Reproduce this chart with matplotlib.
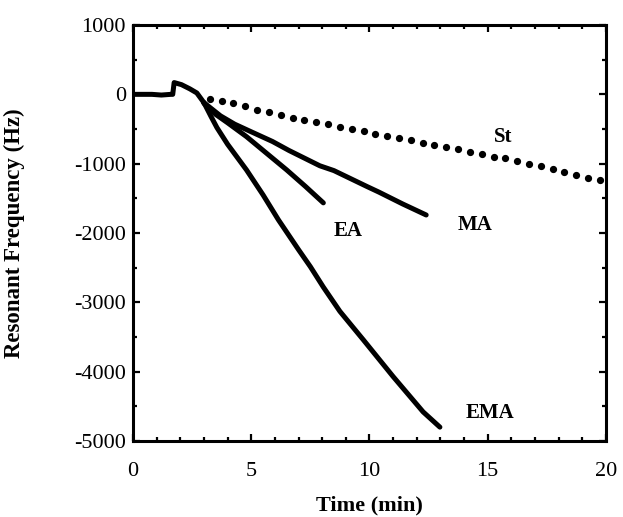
import matplotlib
matplotlib.use("Agg")
import matplotlib.pyplot as plt
from matplotlib.ticker import MultipleLocator

plt.rcParams['font.family'] = ['Liberation Serif', 'DejaVu Serif']
plt.rcParams['axes.unicode_minus'] = False

# Common start (baseline + initial peak)
base_t = [0.0, 0.4, 0.8, 1.2, 1.6, 1.68, 1.74, 2.05, 2.4, 2.7, 3.0]
base_f = [0, 0, 0, -10, 0, 0, 170, 140, 80, 20, -120]

# EMA
ema_t = [3.0, 3.3, 3.55, 4.0, 4.8, 5.5, 6.15, 7.0, 7.5, 8.05, 8.75, 9.74, 11.0, 12.27, 12.98]
ema_f = [-120, -320, -480, -720, -1090, -1450, -1810, -2240, -2485, -2780, -3130, -3540, -4070, -4580, -4800]

# EA
ea_t = [3.0, 3.5, 4.0, 4.8, 5.65, 6.5, 7.3, 8.05]
ea_f = [-130, -290, -410, -610, -850, -1090, -1330, -1565]

# MA
ma_t = [3.0, 3.7, 4.3, 5.0, 5.9, 6.6, 7.9, 8.5, 9.9, 10.4, 11.4, 12.4]
ma_f = [-120, -310, -430, -540, -680, -810, -1030, -1100, -1330, -1410, -1580, -1740]

# St (dotted)
st_t = [3.25, 3.75, 4.25, 4.75, 5.25, 5.75, 6.25, 6.75, 7.25, 7.75, 8.25, 8.75,
        9.25, 9.75, 10.25, 10.75, 11.25, 11.75, 12.25, 12.75, 13.25, 13.75,
        14.25, 14.75, 15.25, 15.75, 16.25, 16.75, 17.25, 17.75, 18.25, 18.75,
        19.25, 19.75]
st_f = [-60, -95, -130, -175, -220, -250, -295, -340, -370, -400, -430, -465,
        -500, -535, -570, -600, -635, -665, -700, -730, -760, -790,
        -830, -860, -905, -925, -960, -1000, -1040, -1080, -1125, -1160,
        -1210, -1235]

labels = ["EMA", "EA", "MA", "St"]
label_pos = [(14.05, -4600), (8.5, -1970), (13.75, -1880), (15.25, -610)]

xticks = [0, 5, 10, 15, 20]
yticks = [-5000, -4000, -3000, -2000, -1000, 0, 1000]

fig = plt.figure(figsize=(6.23, 5.17), dpi=100)
ax = fig.add_axes([0.2135, 0.147, 0.759, 0.8046])

lw = 3.6
ax.plot(base_t, base_f, color='black', lw=lw, solid_capstyle='round')
ax.plot(ema_t, ema_f, color='black', lw=lw, solid_capstyle='round')
ax.plot(ea_t, ea_f, color='black', lw=lw, solid_capstyle='round')
ax.plot(ma_t, ma_f, color='black', lw=lw, solid_capstyle='round')
ax.plot(st_t, st_f, linestyle='none', marker='o', ms=4.2, color='black')

for lab, (x, y) in zip(labels, label_pos):
    ax.text(x, y, lab, fontsize=15, fontweight='bold', ha='left', va='center')

ax.set_xlim(0, 20)
ax.set_ylim(-5000, 1000)
ax.set_xticks(xticks)
ax.set_yticks(yticks)
ax.xaxis.set_minor_locator(MultipleLocator(1))
ax.yaxis.set_minor_locator(MultipleLocator(500))

ax.tick_params(which='both', direction='in', top=True, right=True, width=1.6)
ax.tick_params(which='major', length=5)
ax.tick_params(which='minor', length=3)
ax.tick_params(axis='x', which='major', pad=15, labelsize=16)
ax.tick_params(axis='y', which='major', pad=5, labelsize=16)

for s in ax.spines.values():
    s.set_linewidth(2.2)

ax.set_xlabel("Time (min)", fontsize=16, fontweight='bold')
ax.set_ylabel("Resonant Frequency (Hz)", fontsize=16.5, fontweight='bold')
ax.xaxis.set_label_coords(0.5, -0.132)
ax.yaxis.set_label_coords(-0.228, 0.5)

fig.savefig("out.png", dpi=100)
